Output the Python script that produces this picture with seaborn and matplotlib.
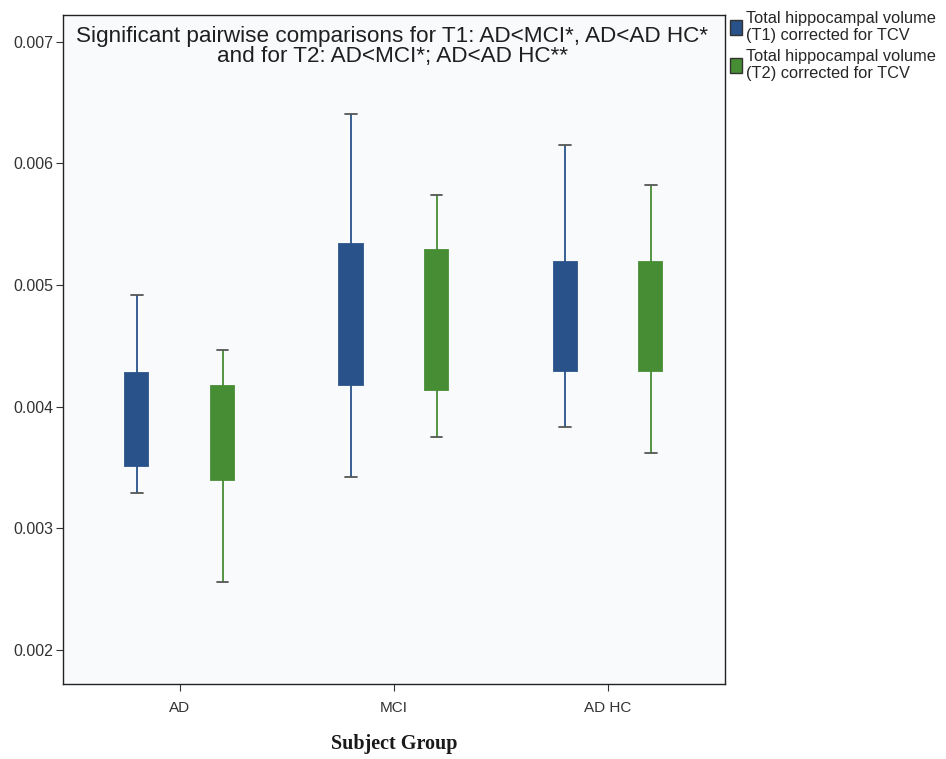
import numpy as np
import pandas as pd
import seaborn as sns
import matplotlib.pyplot as plt
from matplotlib.patches import Patch

groups = ["AD", "MCI", "AD HC"]
series = ["Total hippocampal volume\n(T1) corrected for TCV",
          "Total hippocampal volume\n(T2) corrected for TCV"]

# five-number summaries: min, q1, median, q3, max
t1_min = [0.00329, 0.00342, 0.00383]
t1_q1 = [0.00351, 0.00418, 0.00429]
t1_med = [0.00389, 0.00476, 0.00474]
t1_q3 = [0.00428, 0.00534, 0.00519]
t1_max = [0.00492, 0.00641, 0.00615]

t2_min = [0.00256, 0.00375, 0.00362]
t2_q1 = [0.00340, 0.00414, 0.00429]
t2_med = [0.00378, 0.00471, 0.00474]
t2_q3 = [0.00417, 0.00529, 0.00519]
t2_max = [0.00447, 0.00574, 0.00582]

blue = "#29528a"
green = "#478d34"

rows = []
for s, stats in zip(series, [(t1_min, t1_q1, t1_med, t1_q3, t1_max),
                             (t2_min, t2_q1, t2_med, t2_q3, t2_max)]):
    for i, g in enumerate(groups):
        for v in stats:
            rows.append({"group": g, "series": s, "value": v[i]})
df = pd.DataFrame(rows)

sns.set_style("white")
plt.rcParams["font.family"] = ["Liberation Sans", "DejaVu Sans"]

fig = plt.figure(figsize=(9.46, 7.59), dpi=100)
fig.patch.set_facecolor("white")
ax = fig.add_axes([0.0666, 0.0988, 0.6998, 0.8814])
ax.set_facecolor("#f9fafb")

palette = {series[0]: blue, series[1]: green}
for s in series:
    sns.boxplot(data=df.assign(value=np.where(df["series"] == s, df["value"], np.nan)),
                x="group", y="value", hue="series", order=groups, hue_order=series,
                palette={series[0]: palette[s], series[1]: palette[s]},
                saturation=1, width=0.8, gap=0.73, whis=np.inf, dodge=True, ax=ax,
                linewidth=1.3, legend=False,
                boxprops={"edgecolor": palette[s]},
                whiskerprops={"color": palette[s]},
                capprops={"color": "#555555"},
                medianprops={"color": palette[s]})

ax.set_xlim(-0.545, 2.547)
ax.set_ylim(0.00172, 0.00722)
ax.set_yticks([0.002, 0.003, 0.004, 0.005, 0.006, 0.007])
ax.set_yticklabels(["0.002", "0.003", "0.004", "0.005", "0.006", "0.007"])
ax.tick_params(axis="both", direction="out", length=5, width=0.8, colors="#333333",
               labelsize=11.5, left=True, bottom=True)
ax.tick_params(axis="y", pad=2)
ax.tick_params(axis="x", pad=7, labelsize=11)
ax.set_ylabel("")
ax.set_xlabel("Subject Group", family="Liberation Serif", fontweight="bold",
              fontsize=14.5, labelpad=14, color="#1a1a1a")
for sp in ax.spines.values():
    sp.set_visible(True)
    sp.set_color("#222222")
    sp.set_linewidth(1.0)

ax.text(0.497, 0.983, "Significant pairwise comparisons for T1: AD<MCI*, AD<AD HC*\n"
        "and for T2: AD<MCI*; AD<AD HC**", transform=ax.transAxes,
        ha="center", va="top", fontsize=16.2, color="#1f1f1f", linespacing=0.92)

handles = [Patch(facecolor=blue, edgecolor="#333333", label=series[0]),
           Patch(facecolor=green, edgecolor="#333333", label=series[1])]
fig.legend(handles=handles, loc="upper left", bbox_to_anchor=(0.768, 0.99),
           frameon=False, handlelength=0.75, handleheight=1.0,
           handletextpad=0.25, labelspacing=0.35, borderaxespad=0, borderpad=0.2,
           prop={"size": 11.8})

fig.savefig("out.png", dpi=100)
